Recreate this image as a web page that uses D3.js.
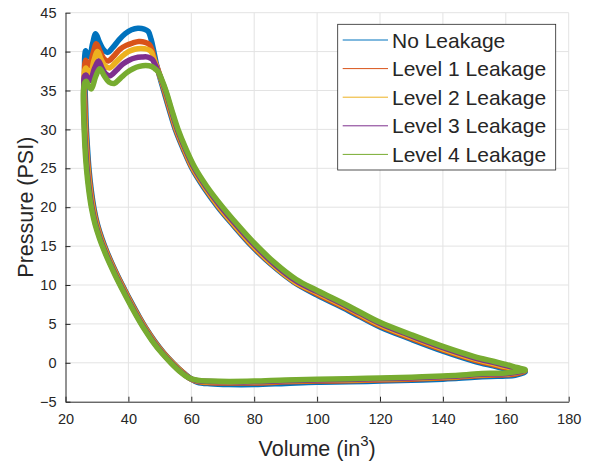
<!DOCTYPE html>
<html>
<head>
<meta charset="utf-8">
<script src="https://cdn.jsdelivr.net/npm/d3@7"></script>
<style>
  html, body { margin: 0; padding: 0; background: #ffffff; }
  svg { display: block; }
  text { font-family: "Liberation Sans", Arial, Helvetica, sans-serif; fill: #262626; }
</style>
</head>
<body>
<svg id="chart" width="592" height="464"></svg>
<script>
// Pressure–volume loops, one per leakage level: [volume (in^3), pressure (PSI)]
// Each loop runs: discharge tip -> suction (bottom) -> compression -> top plateau -> expansion.
const noLeakage = [
  [166.2,-1.2],[163,-1.6],[160,-1.7],[155,-1.75],[150,-1.85],[145,-2.0],[140,-2.1],[130,-2.25],[120,-2.35],[110,-2.45],[100,-2.5],[90,-2.65],[80,-2.8],[72,-2.8],[66,-2.7],[62,-2.5],
  [60.0,-2.1],[57.4,-1.25],[54.4,-0.1],[51.4,1.2],[48.4,2.75],[45.9,4.25],[43.4,5.95],[40.9,7.8],[38.7,9.5],[36.7,11.1],[34.9,12.65],[33.2,14.25],[31.6,15.95],[30.2,17.75],[29.1,19.75],[28.2,22.15],[27.5,24.75],[27.0,27.55],[26.6,30.45],[26.4,32.95],[26.2,35.5],[26.1,37.5],
  [26.1,39.3],[26.4,40.1],[27.0,39.5],[27.6,39.3],[28.6,41.0],[29.6,42.3],[30.8,41.2],[32.0,40.3],[33.4,39.9],[35,40.5],[37,41.5],[39,42.3],[41,42.8],[43,43.0],[45,42.9],[46.3,42.6],[47.2,41.6],[48.0,40.2],[48.8,38.6],
  [49.8,37.0],[51.2,35.0],[53.0,32.5],[54.9,30.0],[57.4,27.5],[60.2,25.0],[64.0,22.5],[68.5,20],[73.5,17.6],[79,15.1],[85.5,12.6],[92.5,10.4],[100,8.7],[110,6.7],[120,4.6],[130,3.0],[140,1.5],[150,0.2],[156,-0.4],[160,-0.8],[163.5,-1.0]
];
const level1 = [
  [166.1,-1.1],[163,-1.45],[160,-1.55],[155,-1.6],[150,-1.7],[145,-1.85],[140,-1.95],[130,-2.1],[120,-2.2],[110,-2.3],[100,-2.35],[90,-2.45],[80,-2.6],[72,-2.6],[66,-2.55],[62,-2.4],
  [59.8,-2.05],[57.2,-1.2],[54.2,-0.05],[51.2,1.25],[48.2,2.8],[45.7,4.3],[43.2,6.0],[40.7,7.85],[38.5,9.55],[36.5,11.15],[34.7,12.7],[33.0,14.3],[31.4,16.0],[30.0,17.8],[28.9,19.8],[28.0,22.2],[27.3,24.8],[26.8,27.6],[26.4,30.5],[26.2,33.0],[26.0,35.5],[26.0,37.2],
  [26.1,38.3],[26.4,38.9],[27.0,38.4],[27.6,38.2],[28.7,39.7],[29.8,41.0],[31.0,40.0],[32.2,39.1],[33.6,38.8],[35.3,39.4],[37.3,40.3],[39.3,40.8],[41.3,41.1],[43.3,41.3],[45.3,41.2],[46.7,40.9],[47.6,40.1],[48.4,38.8],
  [49.4,37.7],[50.6,36.1],[51.4,35.0],[53.2,32.5],[55.1,30.0],[57.6,27.5],[60.4,25.0],[64.3,22.5],[68.8,20],[73.8,17.6],[79.3,15.1],[85.8,12.6],[92.8,10.4],[100,8.85],[110,6.85],[120,4.75],[130,3.15],[140,1.65],[150,0.35],[156,-0.25],[160,-0.65],[163.5,-0.9]
];
const level2 = [
  [166.0,-1.0],[163,-1.3],[160,-1.45],[155,-1.5],[150,-1.6],[145,-1.75],[140,-1.85],[130,-2.0],[120,-2.1],[110,-2.2],[100,-2.25],[90,-2.35],[80,-2.5],[72,-2.5],[66,-2.45],[62,-2.35],
  [59.5,-2.0],[57,-1.2],[54,-0.05],[51,1.25],[48,2.8],[45.5,4.3],[43,6.0],[40.5,7.85],[38.3,9.55],[36.3,11.15],[34.5,12.7],[32.8,14.3],[31.2,16.0],[29.8,17.8],[28.7,19.8],[27.8,22.2],[27.1,24.8],[26.6,27.6],[26.2,30.5],[26.0,33.0],[25.9,35.5],[25.9,36.6],
  [26.1,37.6],[26.5,37.9],[27.3,37.3],[28.0,37.2],[29.0,38.8],[30.2,40.0],[31.3,39.0],[32.5,38.2],[34.0,37.9],[36,38.6],[38,39.4],[40,40.0],[42,40.3],[44,40.4],[46,40.3],[47.2,40.0],[48.0,39.2],
  [49.0,38.0],[50.2,36.6],[51.6,35.0],[53.4,32.5],[55.3,30.0],[57.8,27.5],[60.6,25.0],[64.5,22.5],[69,20],[74,17.6],[79.6,15.1],[86,12.6],[93,10.4],[100,9.0],[110,7.0],[120,4.9],[130,3.3],[140,1.8],[150,0.5],[156,-0.1],[160,-0.5],[163.5,-0.8]
];
const level3 = [
  [166.0,-0.95],[163,-1.25],[160,-1.4],[155,-1.45],[150,-1.55],[145,-1.7],[140,-1.8],[130,-1.95],[120,-2.05],[110,-2.15],[100,-2.2],[90,-2.3],[80,-2.45],[72,-2.45],[66,-2.4],[62,-2.3],
  [59.3,-1.95],[56.8,-1.2],[53.8,-0.05],[50.8,1.25],[47.8,2.8],[45.3,4.3],[42.8,6.0],[40.3,7.85],[38.1,9.55],[36.1,11.15],[34.3,12.7],[32.6,14.3],[31.0,16.0],[29.6,17.8],[28.5,19.8],[27.6,22.2],[26.9,24.8],[26.4,27.6],[26.0,30.5],[25.8,33.0],[25.8,35.5],
  [26.0,36.8],[26.5,37.0],[27.2,36.5],[27.9,36.3],[29.2,37.8],[30.5,38.8],[31.7,37.8],[32.9,37.1],[34.2,36.9],[36.2,37.6],[38.2,38.4],[40.2,38.9],[42.2,39.2],[44.2,39.3],[46.2,39.3],[47.6,39.0],[48.5,38.3],
  [49.3,37.6],[50.4,36.5],[51.8,34.95],[53.6,32.5],[55.5,30.05],[58.0,27.55],[60.8,25.1],[64.7,22.6],[69.2,20.15],[74.2,17.75],[79.8,15.25],[86.2,12.75],[93.2,10.55],[100,9.15],[110,7.15],[120,5.05],[130,3.45],[140,1.95],[150,0.65],[156,0.05],[160,-0.35],[163.5,-0.7]
];
const level4 = [
  [166.2,-0.9],[163,-1.15],[160,-1.3],[155,-1.35],[150,-1.45],[145,-1.6],[140,-1.7],[130,-1.85],[120,-1.95],[110,-2.05],[100,-2.1],[90,-2.2],[80,-2.35],[72,-2.4],[66,-2.35],[62,-2.25],
  [59.0,-1.9],[56.6,-1.2],[53.6,-0.05],[50.6,1.25],[47.6,2.8],[45.1,4.3],[42.6,6.0],[40.1,7.85],[37.9,9.55],[35.9,11.15],[34.1,12.7],[32.4,14.3],[30.8,16.0],[29.4,17.8],[28.3,19.8],[27.4,22.2],[26.7,24.8],[26.2,27.6],[25.9,30.5],[25.7,33.0],[25.7,34.8],
  [26.1,36.0],[26.6,36.2],[27.4,35.5],[28.2,35.2],[29.6,36.8],[30.9,37.8],[32.3,36.9],[33.8,36.1],[35.5,35.9],[37.5,36.6],[39.5,37.3],[41.5,37.8],[43.5,38.1],[45.5,38.2],[47.3,38.1],[48.4,37.8],
  [49.5,37.4],[50.6,36.4],[52.0,34.9],[53.8,32.5],[55.7,30.1],[58.2,27.6],[61.0,25.2],[64.9,22.7],[69.4,20.3],[74.4,17.9],[80.0,15.4],[86.4,12.9],[93.4,10.7],[100,9.3],[110,7.3],[120,5.2],[130,3.6],[140,2.1],[150,0.8],[156,0.2],[160,-0.2],[163.5,-0.6]
];

const seriesNames = ["No Leakage", "Level 1 Leakage", "Level 2 Leakage", "Level 3 Leakage", "Level 4 Leakage"];
const seriesData = [noLeakage, level1, level2, level3, level4];
const seriesColors = ["#0072BD", "#D95319", "#EDB120", "#7E2F8E", "#77AC30"];

const xTicks = [20, 40, 60, 80, 100, 120, 140, 160, 180];
const yTicks = [-5, 0, 5, 10, 15, 20, 25, 30, 35, 40, 45];

const svg = d3.select("#chart");
const plotLeft = 65.5, plotRight = 568.7, plotTop = 12.7, plotBottom = 401.7;

const x = d3.scaleLinear().domain([20, 180]).range([plotLeft, plotRight]);
const y = d3.scaleLinear().domain([-5, 45]).range([plotBottom, plotTop]);

// grid
const grid = svg.append("g").attr("stroke", "#e3e3e3").attr("stroke-width", 1);
grid.selectAll("line.gx").data(xTicks.slice(1)).join("line")
  .attr("x1", d => x(d)).attr("x2", d => x(d)).attr("y1", plotTop).attr("y2", plotBottom);
grid.selectAll("line.gy").data(yTicks.slice(1)).join("line")
  .attr("y1", d => y(d)).attr("y2", d => y(d)).attr("x1", plotLeft).attr("x2", plotRight);

// loops (closed, smoothed through the sampled points)
const line = d3.line().x(d => x(d[0])).y(d => y(d[1])).curve(d3.curveCatmullRomClosed.alpha(0.5));
svg.append("g").selectAll("path").data(seriesData).join("path")
  .attr("d", d => line(d))
  .attr("fill", "none")
  .attr("stroke", (d, i) => seriesColors[i])
  .attr("stroke-width", 5.5)
  .attr("stroke-linejoin", "round")
  .attr("stroke-linecap", "round");

// axes
const xAxis = d3.axisBottom(x).tickValues(xTicks).tickSizeInner(-5).tickSizeOuter(0).tickPadding(12);
const yAxis = d3.axisLeft(y).tickValues(yTicks).tickSizeInner(-5).tickSizeOuter(0).tickPadding(9);

const gx = svg.append("g").attr("transform", `translate(0,${plotBottom})`).call(xAxis);
const gy = svg.append("g").attr("transform", `translate(${plotLeft},0)`).call(yAxis);
[gx, gy].forEach(g => {
  g.select(".domain").attr("stroke", "#262626").attr("stroke-width", 1);
  g.selectAll(".tick line").attr("stroke", "#262626");
  g.selectAll(".tick text").attr("font-size", 14.5).attr("fill", "#262626")
    .style("font-family", "'Liberation Sans', Arial, sans-serif");
});

// axis titles
const xt = svg.append("text").attr("x", (plotLeft + plotRight) / 2).attr("y", 456)
  .attr("text-anchor", "middle").attr("font-size", 21.5);
xt.append("tspan").text("Volume (in");
xt.append("tspan").text("3").attr("font-size", 15).attr("dy", -10);
xt.append("tspan").text(")").attr("dy", 10);

svg.append("text")
  .attr("transform", `translate(32.5,${(plotTop + plotBottom) / 2}) rotate(-90)`)
  .attr("text-anchor", "middle").attr("font-size", 21.5)
  .text("Pressure (PSI)");

// legend
const lg = svg.append("g");
lg.append("rect").attr("x", 337.7).attr("y", 24.3).attr("width", 218).attr("height", 145.7)
  .attr("fill", "#ffffff").attr("stroke", "#262626").attr("stroke-width", 0.8);
const rows = lg.selectAll("g.row").data(seriesNames).join("g")
  .attr("transform", (d, i) => `translate(0,${40 + i * 28.6})`);
rows.append("line").attr("x1", 342.7).attr("x2", 388).attr("y1", 0).attr("y2", 0)
  .attr("stroke", (d, i) => seriesColors[i]).attr("stroke-width", 1);
rows.append("text").attr("x", 392).attr("y", 7.5).attr("font-size", 21).text(d => d);
</script>
</body>
</html>
